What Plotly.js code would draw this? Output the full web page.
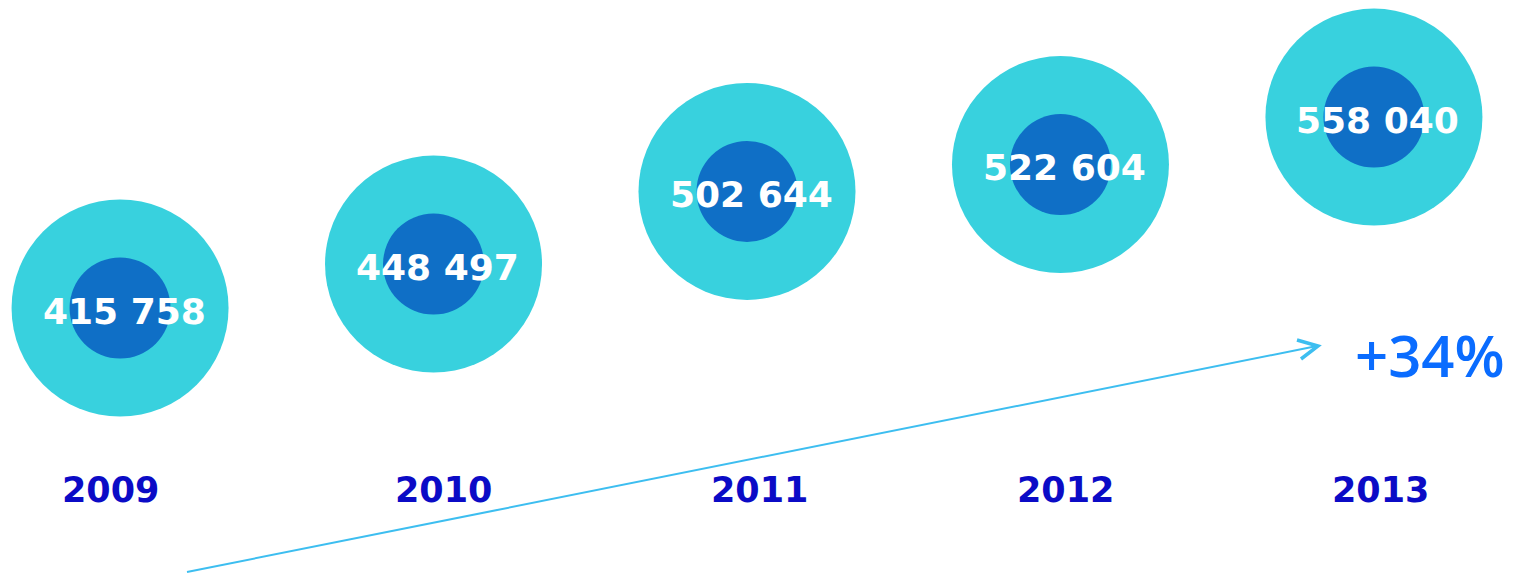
<!DOCTYPE html>
<html>
<head>
<meta charset="utf-8">
<script src="https://cdn.plot.ly/plotly-3.0.1.min.js"></script>
<style>html,body{margin:0;padding:0;background:#fff;}#chart{width:1515px;height:574px;}</style>
</head>
<body>
<div id="chart"></div>
<script>
var years = ['2009', '2010', '2011', '2012', '2013'];
var values = [415758, 448497, 502644, 522604, 558040];
var growthLabel = '+34%';

function fmt(v) {
  return String(v).replace(/\B(?=(\d{3})+(?!\d))/g, ' ');
}

var idx = years.map(function (_, i) { return i; });

var outer = {
  type: 'scatter', mode: 'markers', x: idx, y: values,
  marker: { size: 217, color: '#38D1DE', line: { width: 0 } },
  hoverinfo: 'skip', showlegend: false
};
var inner = {
  type: 'scatter', mode: 'markers', x: idx, y: values,
  marker: { size: 101, color: '#0F6FC6', line: { width: 0 } },
  hoverinfo: 'skip', showlegend: false
};

var annotations = values.map(function (v, i) {
  return {
    x: i, xref: 'x', y: v, yref: 'y', yanchor: 'middle', xanchor: 'center',
    text: '<b>' + fmt(v) + '</b>', showarrow: false, xshift: 4, yshift: -3,
    font: { family: 'DejaVu Sans', size: 36, color: '#ffffff' }
  };
});

var yearShift = [-10, 10, 12, 5, 7];
years.forEach(function (y, i) {
  annotations.push({
    x: i, xref: 'x', y: 1 - 490 / 574, yref: 'paper', yanchor: 'middle',
    text: '<b>' + y + '</b>', showarrow: false, xshift: yearShift[i],
    font: { family: 'DejaVu Sans', size: 35, color: '#0B0BC6' }
  });
});
annotations.push({
  x: 1430 / 1515, xref: 'paper', y: 1 - 354 / 574, yref: 'paper',
  xanchor: 'center', yanchor: 'middle', showarrow: false,
  text: growthLabel,
  font: { family: 'Open Sans', size: 58, color: '#0A6CFF', weight: 600 }
});

function px(x) { return x / 1515; }
function py(y) { return 1 - y / 574; }

var shapes = [
  { type: 'line', xref: 'paper', yref: 'paper', x0: px(187), y0: py(572), x1: px(1317), y1: py(346),
    line: { color: '#3DBEF0', width: 2 } },
  { type: 'path', xref: 'paper', yref: 'paper',
    path: 'M ' + px(1297) + ' ' + py(340) + ' L ' + px(1318) + ' ' + py(346) + ' L ' + px(1301) + ' ' + py(359),
    line: { color: '#3DBEF0', width: 3.5 } }
];

var layout = {
  width: 1515, height: 574,
  margin: { l: 0, r: 0, t: 0, b: 0 },
  paper_bgcolor: '#ffffff', plot_bgcolor: '#ffffff',
  xaxis: { range: [-0.383, 4.45], visible: false, fixedrange: true },
  yaxis: { range: [217546, 645266], visible: false, fixedrange: true },
  annotations: annotations,
  shapes: shapes,
  showlegend: false
};

Plotly.newPlot('chart', [outer, inner], layout, { displayModeBar: false, staticPlot: true });
</script>
</body>
</html>
